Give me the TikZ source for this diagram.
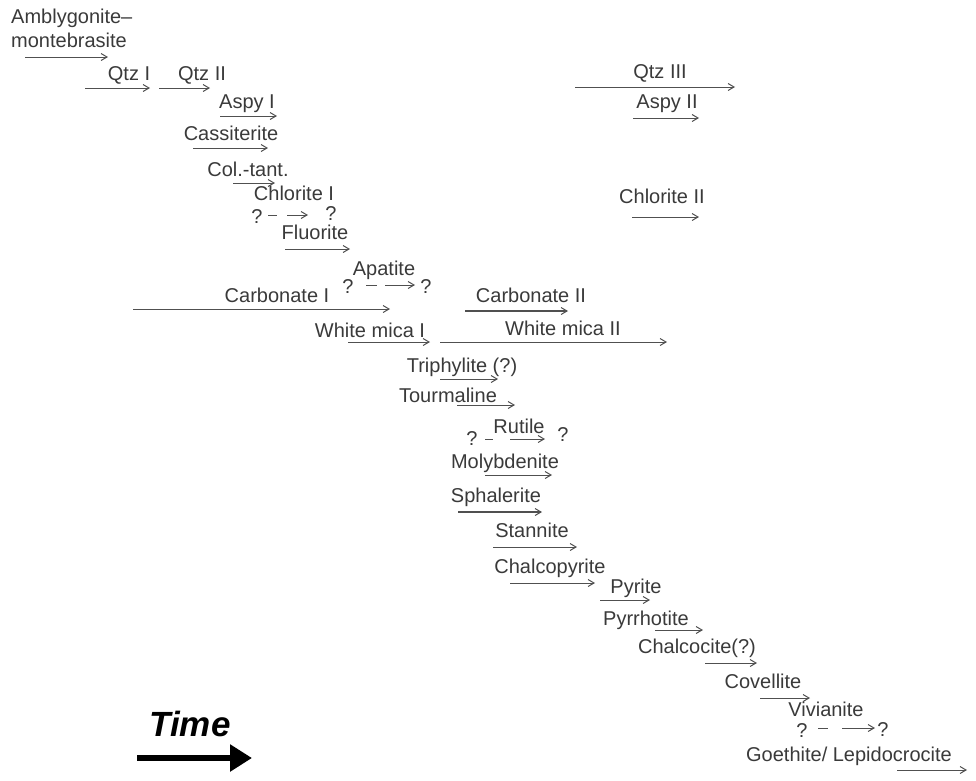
\documentclass[tikz,border=0pt]{standalone}
\usepackage{fontspec}
\setmainfont{Liberation Sans}
\usetikzlibrary{arrows.meta}
\definecolor{txtgray}{HTML}{3A3A3A}
\definecolor{arrgray}{HTML}{505050}
\tikzset{
  lbl/.style={anchor=base, inner sep=0pt, text=txtgray, font=\fontsize{20}{22}\selectfont},
  qmark/.style={lbl},
  bararrow/.style={draw=arrgray, line width=1pt, -{Straight Barb[length=6pt,width=7pt,line width=1pt]}},
  thickbar/.style={bararrow, line width=1.8pt},
  dashseg/.style={draw=arrgray, line width=1pt},
  timearrow/.style={draw=black, line width=5.5pt, -{Triangle[length=22pt,width=26pt]}}
}
\newcommand\mybar[5][bararrow]{%
  \coordinate (#2s) at (#3,#5);
  \coordinate (#2e) at (#4,#5);
  \draw[#1] (#2s) -- (#2e);}
\begin{document}
\begin{tikzpicture}[x=1pt,y=-1pt]
\useasboundingbox (0,0) rectangle (976,780);
% Amblygonite
\node[lbl, anchor=base west] (amb1) at (11,23) {Amblygonite–};
\node[lbl, anchor=base west] (amb2) at (11,47) {montebrasite};
\mybar{amb}{25}{108}{57}
% Qtz
\node[lbl] (qtz1) at (129,80) {Qtz I};
\mybar{q1}{85}{150}{88}
\node[lbl] (qtz2) at (202,80) {Qtz II};
\mybar{q2}{159}{210}{88}
\node[lbl] (aspy1) at (247,108) {Aspy I};
\mybar{as1}{220}{277}{116}
\node[lbl] (cass) at (231,140) {Cassiterite};
\mybar{cas}{193}{268}{148}
\node[lbl] (col) at (248,176) {Col.-tant.};
\mybar{col}{233}{275}{183}
\node[lbl] (chl1) at (294,200) {Chlorite I};
\node[qmark] (chq1) at (257,223) {?};
\node[qmark] (chq2) at (331,220) {?};
\coordinate (chds) at (268,215); \coordinate (chde) at (277,215);
\draw[dashseg] (chds) -- (chde);
\mybar{chl}{287}{308}{215}
\node[lbl] (flu) at (315,239) {Fluorite};
\mybar{flu}{285}{350}{249}
\node[lbl] (apa) at (384,275) {Apatite};
\node[qmark] (apq1) at (348,293) {?};
\node[qmark] (apq2) at (426,293) {?};
\coordinate (apds) at (366,285); \coordinate (apde) at (377,285);
\draw[dashseg] (apds) -- (apde);
\mybar{apa}{385}{415}{285}
\node[lbl] (carb1) at (277,302) {Carbonate I};
\mybar{cb1}{133}{390}{309}
\node[lbl] (carb2) at (531,302) {Carbonate II};
\mybar[thickbar]{cb2}{465}{568}{311}
\node[lbl] (wm1) at (370,337) {White mica I};
\mybar{wm1}{348}{430}{342}
\node[lbl] (wm2) at (563,335) {White mica II};
\mybar{wm2}{440}{667}{342}
\node[lbl] (tri) at (462,372) {Triphylite (?)};
\mybar{tri}{440}{498}{379}
\node[lbl] (tou) at (448,402) {Tourmaline};
\mybar{tou}{457}{515}{405}
\node[lbl] (rut) at (519,433) {Rutile};
\node[qmark] (ruq1) at (472,445) {?};
\node[qmark] (ruq2) at (563,441) {?};
\coordinate (ruds) at (485,439); \coordinate (rude) at (493,439);
\draw[dashseg] (ruds) -- (rude);
\mybar{rut}{510}{545}{439}
\node[lbl] (mol) at (505,468) {Molybdenite};
\mybar{mol}{485}{552}{475}
\node[lbl] (sph) at (496,502) {Sphalerite};
\mybar[thickbar]{sph}{458}{542}{512}
\node[lbl] (sta) at (532,537) {Stannite};
\mybar{sta}{493}{577}{547}
\node[lbl] (chp) at (550,573) {Chalcopyrite};
\mybar{chp}{510}{595}{583}
\node[lbl] (pyr) at (636,593) {Pyrite};
\mybar{pyr}{600}{650}{600}
\node[lbl] (pyrr) at (646,625) {Pyrrhotite};
\mybar{pyrr}{655}{703}{630}
\node[lbl] (chc) at (697,653) {Chalcocite(?)};
\mybar{chc}{705}{757}{663}
\node[lbl] (cov) at (763,688) {Covellite};
\mybar{cov}{760}{810}{698}
\node[lbl] (viv) at (826,716) {Vivianite};
\node[qmark] (viq1) at (802,737) {?};
\node[qmark] (viq2) at (883,736) {?};
\coordinate (vids) at (818,728); \coordinate (vide) at (828,728);
\draw[dashseg] (vids) -- (vide);
\mybar{viv}{842}{875}{728}
\node[lbl] (goe) at (849,761) {Goethite/ Lepidocrocite};
\mybar{goe}{897}{967}{770}
% late stage
\node[lbl] (qtz3) at (660,78) {Qtz III};
\mybar{q3}{575}{735}{87}
\node[lbl] (aspy2) at (667,108) {Aspy II};
\mybar{as2}{633}{699}{118}
\node[lbl] (chl2) at (662,203) {Chlorite II};
\mybar{ch2}{632}{699}{217}
% Time
\node[lbl, text=black, font=\fontsize{35}{40}\selectfont\bfseries\itshape] (time) at (190,736) {Time};
\coordinate (tas) at (137,758); \coordinate (tae) at (252,758);
\draw[timearrow] (tas) -- (tae);
\end{tikzpicture}
\end{document}
